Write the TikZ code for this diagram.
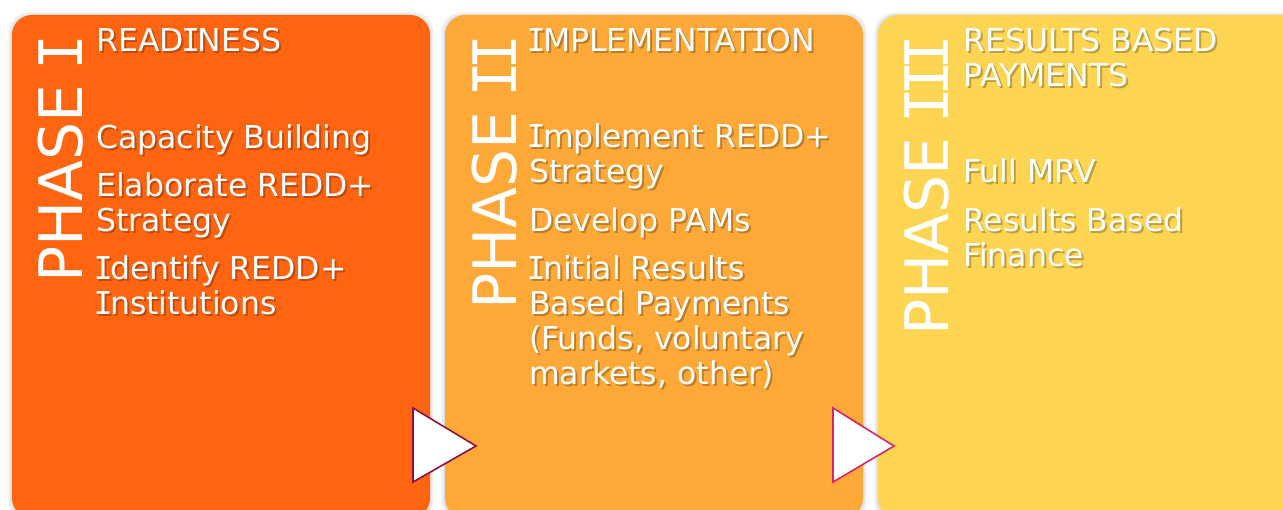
\documentclass[tikz,border=0pt]{standalone}
\usepackage{fontspec}
\setmainfont{DejaVu Sans}
\newfontfamily\monof{DejaVu Sans Mono}
\newcommand\vI{\makebox[0.44em]{\monof I}}
\definecolor{pone}{HTML}{FF6511}
\definecolor{ptwo}{HTML}{FEA837}
\definecolor{pthree}{HTML}{FDD552}
\definecolor{trione}{HTML}{8B1040}
\definecolor{tritwo}{HTML}{D6246E}
\tikzset{
  panel/.style={rounded corners=20pt},
  txt/.style={inner sep=0pt, anchor=base west, text=white, font=\fontsize{31.5}{35}\selectfont},
  txtshadow/.style={txt, text=black, text opacity=0.25, xshift=2pt, yshift=-2pt},
  phase/.style={inner sep=0pt, anchor=base west, rotate=90, text=white, font=\fontsize{60}{60}\selectfont},
  tri/.style={fill=white, line width=1.6pt, line join=miter},
}
\newcommand\shtxt[3]{%
  \node[txtshadow] at (#2) {#3};%
  \node[txt] (#1) at (#2) {#3};}
\begin{document}
\begin{tikzpicture}[x=1pt,y=-1pt]
\useasboundingbox (0,0) rectangle (1283,510);
\fill[white] (0,0) rectangle (1283,510);
% soft panel shadows
\foreach \e in {1,2,3,4}{
  \fill[black, opacity=0.03, panel] (12-\e,15-\e+1) rectangle (430+\e,518+\e);
  \fill[black, opacity=0.03, panel] (445-\e,15-\e+1) rectangle (863+\e,518+\e);
  \fill[black, opacity=0.03, panel] (878-\e,15-\e+1) rectangle (1320+\e,518+\e);
}
% panels
\fill[pone, panel] (12,15) rectangle (430,518);
\fill[ptwo, panel] (445,15) rectangle (863,518);
\fill[pthree, panel] (878,15) rectangle (1320,518);
% phase labels
\node[phase] (p1) at (82,283) {PHASE \vI};
\node[phase] (p2) at (516,310) {PHASE \vI\vI};
\node[phase] (p3) at (948,336) {PHASE \vI\vI\vI};
% panel 1
\shtxt{h1}{96,52}{READ\vI NESS}
\shtxt{a1}{96,149}{Capacity Building}
\shtxt{a2}{96,197}{\vtop{\hbox{Elaborate REDD+}\hbox{Strategy}}}
\shtxt{a3}{96,280}{\vtop{\hbox{\vI dentify REDD+}\hbox{\vI nstitutions}}}
% panel 2
\shtxt{h2}{529,52}{\vI MPLEMENTAT\vI ON}
\shtxt{b1}{529,148}{\vtop{\hbox{\vI mplement REDD+}\hbox{Strategy}}}
\shtxt{b2}{529,232}{Develop PAMs}
\shtxt{b3}{529,280}{\vtop{\hbox{\vI nitial Results}\hbox{Based Payments}\hbox{(Funds, voluntary}\hbox{markets, other)}}}
% panel 3
\shtxt{h3}{963,52}{\vtop{\hbox{RESULTS BASED}\hbox{PAYMENTS}}}
\shtxt{c1}{963,183}{Full MRV}
\shtxt{c2}{963,232}{\vtop{\hbox{Results Based}\hbox{Finance}}}
% arrows
\draw[tri, draw=trione] (413,408) -- (413,482) -- (476,446) -- cycle;
\draw[tri, draw=tritwo] (833,408) -- (833,482) -- (894,446) -- cycle;
\end{tikzpicture}
\end{document}
